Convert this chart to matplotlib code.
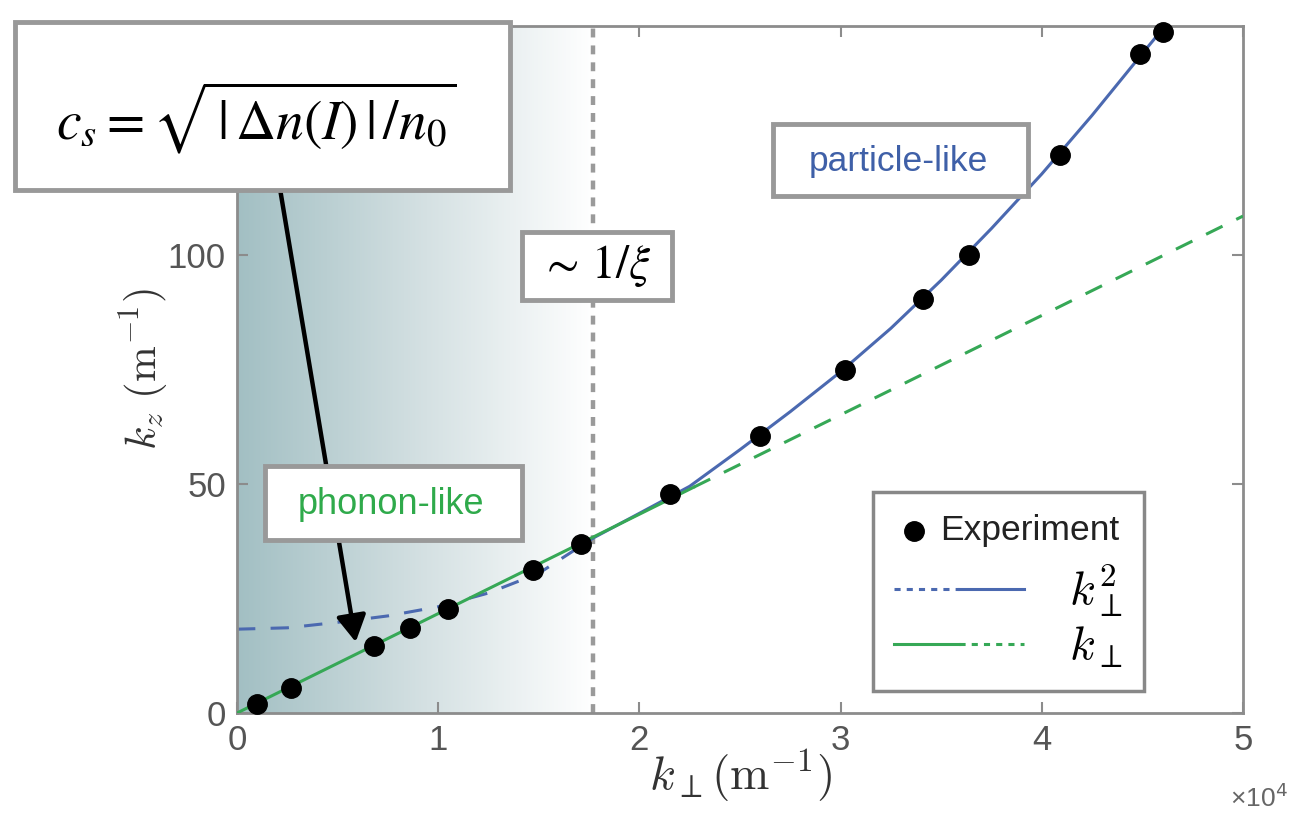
import numpy as np
import matplotlib
matplotlib.use('Agg')
import matplotlib.pyplot as plt
from matplotlib.patches import Rectangle
from matplotlib.lines import Line2D
from matplotlib.text import Text
from matplotlib.colors import LinearSegmentedColormap
from matplotlib.legend_handler import HandlerBase, HandlerTuple

plt.rcParams['font.family'] = ['Liberation Sans', 'DejaVu Sans']
plt.rcParams['mathtext.fontset'] = 'cm'

# experiment points (k_perp in 1e4 m^-1, k_z in m^-1)
kperp = [0.10, 0.27, 0.68, 0.86, 1.05, 1.47, 1.71, 2.15, 2.60, 3.02, 3.41, 3.64, 4.09, 4.49, 4.60]
kz = [2.0, 5.5, 14.7, 18.6, 22.8, 31.3, 36.8, 47.9, 60.4, 74.8, 90.4, 100.0, 121.9, 143.8, 148.6]

# k_perp^2 fit
quad_x = [0, 0.25, 0.5, 0.75, 1.0, 1.25, 1.5, 1.77, 2.0, 2.25, 2.5, 2.75, 3.0, 3.25, 3.5, 3.75, 4.0, 4.25, 4.5, 4.65]
quad_y = [18.3, 18.6, 19.8, 21.2, 23.2, 26.2, 30.5, 38.2, 43.6, 49.5, 57.5, 65.8, 74.5, 84.0, 94.5, 105.8, 117.7, 130.5, 144.0, 152.0]
quad_split = 7   # dashed up to 1/xi, solid after

# k_perp (linear) fit
lin_x = [0, 1.0, 2.0, 2.27, 3.0, 4.0, 5.0]
lin_y = [0, 21.7, 43.4, 49.3, 65.1, 86.8, 108.5]
lin_split = 3    # solid up to here, dashed after

xi_inv = 1.77
xticks = [0, 1, 2, 3, 4, 5]
yticks = [0, 50, 100]

BLUE = '#4b69b0'
GREEN = '#36a856'
GRAY = '#8c8c8c'

W, H = 1290, 814


def px(x, y):
    # pixel position (from top-left) -> figure fraction
    return x / W, 1 - y / H


class DotLabelHandler(HandlerBase):
    # MATLAB-style entry: marker at left, text right after it
    def create_artists(self, legend, orig_handle, xdescent, ydescent, width, height, fontsize, trans):
        x0, yc = -xdescent, height / 2 - ydescent
        dot = Line2D([x0 + 0.15 * width], [yc], marker='o', ms=14, color='k', ls='none', transform=trans)
        txt = Text(x0 + 0.35 * width, yc, 'Experiment', ha='left', va='center', fontsize=25.5,
                   color='#222222', transform=trans)
        return [dot, txt]


fig = plt.figure(figsize=(12.9, 8.14), dpi=100)
ax = fig.add_axes([237 / W, 1 - 713 / H, (1243 - 237) / W, (713 - 26) / H])

# shaded phonon region
shade = LinearSegmentedColormap.from_list('shade', ['#a2bfc3', '#d2dfe1', '#ffffff'])
ax.imshow(np.linspace(0, 1, 256)[None, :], extent=[0, xi_inv, 0, 150], aspect='auto',
          cmap=shade, interpolation='bicubic', zorder=0)
ax.axvline(xi_inv, color='#9a9a9a', lw=3.2, ls=(0, (2, 1.8)), zorder=1)

q_dash, = ax.plot(quad_x[:quad_split + 1], quad_y[:quad_split + 1], color=BLUE, lw=2.2,
                  dashes=(6, 5), zorder=2)
q_solid, = ax.plot(quad_x[quad_split:], quad_y[quad_split:], color=BLUE, lw=2.2, zorder=2)
l_solid, = ax.plot(lin_x[:lin_split + 1], lin_y[:lin_split + 1], color=GREEN, lw=2.2, zorder=3)
l_dash, = ax.plot(lin_x[lin_split:], lin_y[lin_split:], color=GREEN, lw=2.2, dashes=(6, 5), zorder=3)
pts, = ax.plot(kperp, kz, 'o', color='k', ms=14, zorder=5, clip_on=False)

ax.set_xlim(0, 5)
ax.set_ylim(0, 150)
ax.set_xticks(xticks)
ax.set_yticks(yticks)
ax.tick_params(direction='in', length=8, width=1.5, color=GRAY, top=True, right=True,
               labelsize=25, labelcolor='#555555', pad=8)
for s in ax.spines.values():
    s.set_color(GRAY)
    s.set_linewidth(2)

ax.set_xlabel(r'$k_\perp(\mathrm{m}^{-1})$', fontsize=34, color='#333333')
ax.set_ylabel(r'$k_z\ (\mathrm{m}^{-1})$', fontsize=31, color='#333333')
ax.xaxis.set_label_coords(0.5, -0.05)
ax.yaxis.set_label_coords(-0.066, 0.5)
fig.text(*px(1288, 812), '×10$^4$', ha='right', va='bottom', fontsize=19, color='#666666',
         math_fontfamily='dejavusans')

# legend samples with the short MATLAB-like dashes
lg_qd = Line2D([], [], color=BLUE, lw=2.2, dashes=(2, 2))
lg_qs = Line2D([], [], color=BLUE, lw=2.2)
lg_ls = Line2D([], [], color=GREEN, lw=2.2)
lg_ld = Line2D([], [], color=GREEN, lw=2.2, dashes=(2, 2))
leg = ax.legend([pts, (lg_qd, lg_qs), (lg_ls, lg_ld)],
                [' ', r'$k_\perp^2$', r'$k_\perp$'],
                handler_map={pts: DotLabelHandler(), tuple: HandlerTuple(ndivide=None, pad=0)},
                loc='upper left', bbox_to_anchor=px(873, 492), bbox_transform=fig.transFigure,
                borderaxespad=0, fontsize=34, handlelength=2.75, handletextpad=0.95,
                borderpad=0.45, labelspacing=0.12, fancybox=False, framealpha=1,
                edgecolor='#888888')
leg.get_frame().set_linewidth(2.5)

# arrow from the formula box to the phonon part
ax.annotate('', xy=(0.59, 15.5), xytext=(0.214, 114.4),
            arrowprops=dict(arrowstyle='-|>,head_length=0.8,head_width=0.45', color='k',
                            lw=3.2, shrinkA=0, shrinkB=0, mutation_scale=20),
            annotation_clip=False, zorder=6)


def label_box(x0, y0, x1, y1, text, tx, ty, **kw):
    bx, by = px(x0, y1)
    fig.add_artist(Rectangle((bx, by), (x1 - x0) / W, (y1 - y0) / H, transform=fig.transFigure,
                             facecolor='white', edgecolor='#999999', lw=3.5, zorder=4))
    fig.text(*px(tx, ty), text, ha='center', va='center', zorder=5, **kw)


label_box(15, 22, 510, 190, r'$c_s = \sqrt{\,|\,\Delta n(I)\,|\,/n_0}$', 256, 118,
          fontsize=40, math_fontfamily='stix')
label_box(522, 232, 672, 300, r'$\sim\,1/\xi$', 596, 266, fontsize=34, math_fontfamily='stix')
label_box(773, 124, 1028, 196, 'particle-like', 898, 162, fontsize=25.5, color='#3f60a8')
label_box(265, 466, 522, 540, 'phonon-like', 391, 505, fontsize=26, color='#2faa4b')

fig.savefig('out.png', dpi=100)
